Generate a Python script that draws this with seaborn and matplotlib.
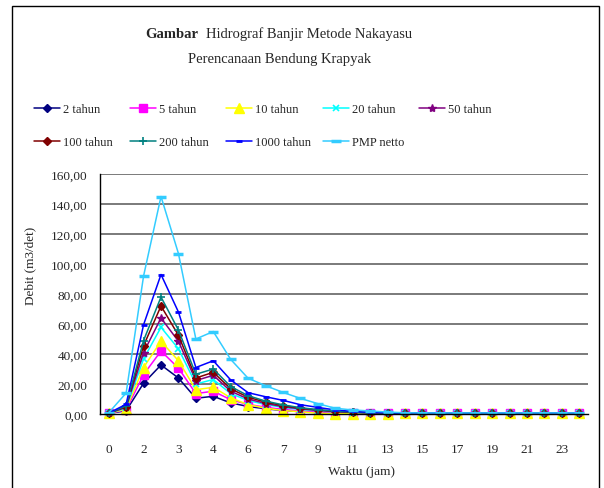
import matplotlib
matplotlib.use("Agg")
import matplotlib.pyplot as plt
import seaborn as sns
import pandas as pd
from matplotlib.lines import Line2D
from matplotlib.patches import Rectangle
from matplotlib.ticker import FixedLocator, FuncFormatter

# ---------------- data ----------------
time_labels = ["0", "1", "2", "2,5", "3", "3,5", "4", "5", "6", "6,5", "7", "8", "9", "10",
               "11", "12", "13", "14", "15", "16", "17", "18", "19", "20", "21", "22", "23", "24"]
shown_labels = ["0", "2", "3", "4", "6", "7", "9", "11", "13", "15", "17", "19", "21", "23"]

series_names = ["2 tahun", "5 tahun", "10 tahun", "20 tahun", "50 tahun",
                "100 tahun", "200 tahun", "1000 tahun", "PMP netto"]

q2 = [0.3, 2.2, 20.5, 32.7, 24.0, 10.5, 11.8, 7.4, 5.0, 3.5, 2.3, 1.6, 1.1, 0.8, 0.6, 0.5, 0.5,
      0.5, 0.5, 0.5, 0.5, 0.5, 0.5, 0.5, 0.5, 0.5, 0.5, 0.5]
q5 = [0.4, 2.8, 26.3, 42.0, 30.6, 13.6, 15.2, 9.5, 6.4, 4.5, 3.0, 2.0, 1.4, 1.0, 0.8, 0.7, 0.6,
      0.6, 0.6, 0.6, 0.6, 0.6, 0.6, 0.6, 0.6, 0.6, 0.6, 0.6]
q10 = [0.4, 3.3, 31.0, 48.5, 35.5, 16.2, 17.8, 10.8, 6.2, 3.9, 2.3, 1.5, 0.5, 0.2, 0.1, 0.1, 0.2,
       0.4, 0.4, 0.4, 0.4, 0.4, 0.4, 0.4, 0.4, 0.4, 0.4, 0.4]
q20 = [0.5, 4.0, 36.8, 57.8, 43.5, 20.0, 23.0, 13.6, 9.0, 6.3, 4.4, 3.0, 2.1, 1.4, 1.0, 0.8, 0.7,
       0.6, 0.6, 0.6, 0.6, 0.6, 0.6, 0.6, 0.6, 0.6, 0.6, 0.6]
q50 = [0.5, 4.5, 41.0, 64.0, 48.5, 22.3, 25.8, 15.2, 10.0, 7.0, 4.9, 3.4, 2.4, 1.6, 1.1, 0.8, 0.7,
       0.6, 0.6, 0.6, 0.6, 0.6, 0.6, 0.6, 0.6, 0.6, 0.6, 0.6]
q100 = [0.5, 5.0, 45.5, 72.0, 52.5, 24.0, 27.8, 16.8, 11.2, 7.9, 5.6, 3.9, 2.7, 1.8, 1.2, 0.9, 0.7,
        0.6, 0.6, 0.6, 0.6, 0.6, 0.6, 0.6, 0.6, 0.6, 0.6, 0.6]
q200 = [0.6, 5.4, 49.0, 78.0, 56.0, 26.5, 30.0, 18.3, 12.2, 8.6, 6.1, 4.2, 2.9, 2.0, 1.3, 0.9, 0.7,
        0.6, 0.6, 0.6, 0.6, 0.6, 0.6, 0.6, 0.6, 0.6, 0.6, 0.6]
q1000 = [0.6, 6.5, 59.5, 93.0, 68.0, 31.0, 35.5, 22.7, 14.2, 11.5, 9.1, 6.2, 4.4, 2.7, 1.7, 1.1, 0.8,
         0.6, 0.6, 0.6, 0.6, 0.6, 0.6, 0.6, 0.6, 0.6, 0.6, 0.6]
qpmp = [0.8, 14.0, 92.0, 145.0, 107.0, 50.0, 55.0, 36.4, 23.8, 18.9, 14.4, 10.4, 6.9, 3.8, 2.7, 2.0, 1.3,
        0.8, 0.7, 0.7, 0.7, 0.7, 0.7, 0.7, 0.7, 0.7, 0.7, 0.7]

series_values = [q2, q5, q10, q20, q50, q100, q200, q1000, qpmp]

y_ticks = [0, 20, 40, 60, 80, 100, 120, 140, 160]

# ---------------- styles ----------------
colors = ["#000080", "#FF00FF", "#FFFF00", "#00FFFF", "#800080",
          "#800000", "#008080", "#0000FF", "#33CCFF"]
markers = ["D", "s", "^", "x", "*", "D", "+", "_", "_"]
msizes = [4.5, 5.5, 6.5, 5, 6, 4.5, 6, 5, 7]
mews = [1, 1, 1, 1.2, 1, 1, 1.2, 2, 2.5]

sns.set_style("white")
plt.rcParams["font.family"] = ["Liberation Serif", "DejaVu Serif"]

W, H = 604, 489
fig = plt.figure(figsize=(W / 100, H / 100), dpi=100)
ax = fig.add_axes([100 / W, 1 - 415 / H, 488 / W, 240 / H])

idx = list(range(len(time_labels)))
rows = []
for name, vals in zip(series_names, series_values):
    for i, v in zip(idx, vals):
        rows.append({"idx": i, "q": v, "series": name})
df = pd.DataFrame(rows)

for name, c, m, ms, mw in zip(series_names, colors, markers, msizes, mews):
    sub = df[df["series"] == name]
    sns.lineplot(data=sub, x="idx", y="q", color=c, marker=m, markersize=ms,
                 markeredgewidth=mw, markeredgecolor=c, linewidth=1.1, ax=ax,
                 legend=False, clip_on=False)

ax.set_xlim(-0.5, len(time_labels) - 0.5)
ax.set_ylim(0, 160)

# y axis
ax.set_yticks(y_ticks)
ax.yaxis.set_major_formatter(FuncFormatter(lambda v, p: f"{v:.2f}".replace(".", ",")))
ax.tick_params(axis="y", direction="inout", length=8, width=1, color="black",
               labelsize=9.5, pad=5)
for yv in y_ticks[1:]:
    ax.axhline(yv, color="#7a7a7a", lw=1.4, zorder=0)

# x axis: labels on every other category, ticks between categories
ax.xaxis.set_major_locator(FixedLocator(idx[::2]))
ax.set_xticklabels(shown_labels)
ax.xaxis.set_minor_locator(FixedLocator([i - 0.5 for i in range(len(time_labels) + 1)]))
ax.tick_params(axis="x", which="major", length=0, labelsize=9.5, pad=21)
ax.tick_params(axis="x", which="minor", direction="out", length=5, width=1, color="black")

for s in ["top", "right"]:
    ax.spines[s].set_visible(False)
for s in ["left", "bottom"]:
    ax.spines[s].set_color("black")
    ax.spines[s].set_linewidth(1)
ax.set_xlabel("")
ax.set_ylabel("")

# labels
fig.text(30 / W, 1 - 266 / H, "Debit (m3/det)", rotation=90, ha="center", va="center", fontsize=9.5)
fig.text(362 / W, 1 - 472 / H, "Waktu (jam)", ha="center", va="center", fontsize=9.5)

# title
fig.text(198 / W, 1 - 34 / H, "Gambar", ha="right", va="center", fontsize=10.5, fontweight="bold")
fig.text(206 / W, 1 - 34 / H, "Hidrograf Banjir Metode Nakayasu", ha="left", va="center", fontsize=10.5)
fig.text(280 / W, 1 - 59 / H, "Perencanaan Bendung Krapyak", ha="center", va="center", fontsize=10.5)

# legend: one column per Excel legend column
col_x = [37, 133, 229, 326, 422]
col_items = [[0, 5], [1, 6], [2, 7], [3, 8], [4]]
for cx, items in zip(col_x, col_items):
    handles = [Line2D([0], [0], color=colors[k], marker=markers[k], markersize=msizes[k],
                      markeredgewidth=mews[k], markeredgecolor=colors[k], lw=1.1)
               for k in items]
    labels = [series_names[k] for k in items]
    fig.legend(handles, labels, loc="upper left",
               bbox_to_anchor=((cx - 3) / W, 1 - 104 / H), frameon=False,
               fontsize=9, handlelength=2.1, handletextpad=0.25, labelspacing=1.72,
               borderpad=0, borderaxespad=0)

# outer chart border (bottom edge falls outside the picture)
fig.patches.append(Rectangle((12 / W, -0.05), 587 / W, 1.05 - 7 / H, transform=fig.transFigure,
                             fill=False, edgecolor="black", lw=1))

fig.savefig("out.png", dpi=100)
